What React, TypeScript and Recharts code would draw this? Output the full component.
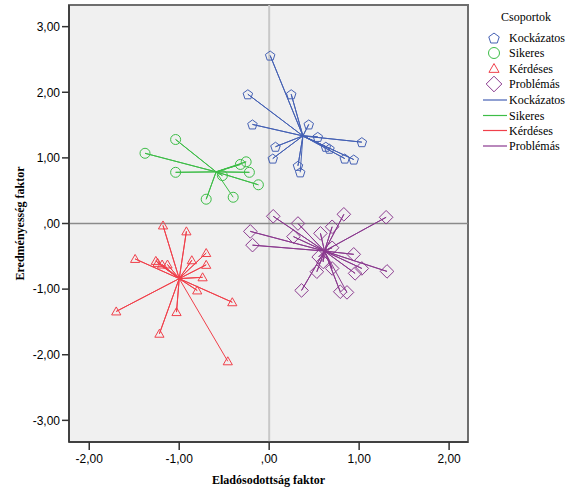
import React from 'react';
import {
  ScatterChart,
  Scatter,
  XAxis,
  YAxis,
  ReferenceLine,
  ReferenceArea,
  Customized,
} from 'recharts';

// ---- data ----
const groupNames = ['Kockázatos', 'Sikeres', 'Kérdéses', 'Problémás'];
const groupColors = ['#4561b4', '#3dbd47', '#f0404b', '#8b3a8f'];
const legendTitle = 'Csoportok';
const xTitle = 'Eladósodottság faktor';
const yTitle = 'Eredményesség faktor';

const kockazatosX = [0.011, -0.237, 0.245, -0.186, 0.44, 0.54, 1.03, 0.07, 0.04, 0.63, 0.67, 0.84, 0.94, 0.32, 0.345];
const kockazatosY = [2.56, 1.97, 1.97, 1.51, 1.51, 1.32, 1.24, 1.17, 0.99, 1.17, 1.14, 0.99, 0.975, 0.88, 0.78];

const sikeresX = [-1.04, -1.38, -1.04, -0.32, -0.256, -0.22, -0.52, -0.12, -0.7, -0.4];
const sikeresY = [1.28, 1.07, 0.78, 0.9, 0.94, 0.78, 0.73, 0.59, 0.37, 0.4];

const kerdesesX = [-1.18, -0.92, -1.49, -1.26, -1.24, -1.19, -1.13, -0.7, -0.86, -0.7, -0.74, -0.8, -0.41, -1.7, -1.03, -1.22, -0.46];
const kerdesesY = [-0.03, -0.12, -0.54, -0.57, -0.6, -0.625, -0.625, -0.45, -0.56, -0.63, -0.82, -1.02, -1.2, -1.34, -1.35, -1.68, -2.1];

const problemasX = [0.045, 0.83, 1.3, -0.21, -0.185, 0.32, 0.7, 0.27, 0.57, 0.7, 0.94, 0.55, 0.6, 0.53, 0.7, 0.955, 1.03, 1.31, 0.36, 0.79, 0.865];
const problemasY = [0.11, 0.14, 0.095, -0.12, -0.33, 0.0, -0.05, -0.2, -0.15, -0.37, -0.47, -0.51, -0.585, -0.735, -0.685, -0.76, -0.685, -0.73, -1.02, -1.04, -1.05];

const centroidX = [0.375, -0.59, -1.0, 0.615];
const centroidY = [1.335, 0.787, -0.84, -0.42];

const xTicks = [-2, -1, 0, 1, 2];
const yTicks = [-3, -2, -1, 0, 1, 2, 3];
const xDomain = [-2.225, 2.21];
const yDomain = [-3.33, 3.33];

// ---- derived ----
const groupXs = [kockazatosX, sikeresX, kerdesesX, problemasX];
const groupYs = [kockazatosY, sikeresY, kerdesesY, problemasY];

const groupPoints = groupXs.map((xs, g) => xs.map((x, i) => ({ x, y: groupYs[g][i] })));
const groupStars = groupPoints.map((pts, g) =>
  pts.flatMap((p) => [{ x: centroidX[g], y: centroidY[g] }, p])
);

const fmt = (v: number) => (v === 0 ? ',00' : v.toFixed(2).replace('.', ','));

// ---- marker shapes ----
function markerPath(kind: number, cx: number, cy: number, s: number): React.ReactNode {
  const color = groupColors[kind];
  const common = { fill: 'none', stroke: color, strokeWidth: 1 };
  if (kind === 0) {
    const r = 5 * s;
    const pts = [0, 1, 2, 3, 4]
      .map((k) => {
        const a = (-90 + k * 72) * (Math.PI / 180);
        return `${cx + r * Math.cos(a)},${cy + r * Math.sin(a) + 0.5 * s}`;
      })
      .join(' ');
    return <polygon points={pts} {...common} />;
  }
  if (kind === 1) {
    return <circle cx={cx} cy={cy} r={5 * s} {...common} />;
  }
  if (kind === 2) {
    const hw = 4.6 * s;
    const pts = `${cx},${cy - 4.5 * s} ${cx + hw},${cy + 3.5 * s} ${cx - hw},${cy + 3.5 * s}`;
    return <polygon points={pts} {...common} />;
  }
  const r = 6.8 * s;
  const pts = `${cx},${cy - r} ${cx + r},${cy} ${cx},${cy + r} ${cx - r},${cy}`;
  return <polygon points={pts} {...common} />;
}

const makeShape = (kind: number) => (props: any) => {
  const { cx, cy } = props;
  if (cx == null || cy == null) return <g />;
  return <g>{markerPath(kind, cx, cy, 1)}</g>;
};

const noShape = () => <g />;

// ---- legend ----
const LegendSvg = () => {
  const lx = 494;
  const tx = 509;
  const rowsMarker = [38, 53, 68.5, 84];
  const rowsLine = [100, 115.5, 130.5, 146];
  const font = { fontFamily: '"Liberation Serif", "Times New Roman", serif', fontSize: 12, fill: '#000' };
  return (
    <g>
      <text x={526} y={21} textAnchor="middle" {...font}>
        {legendTitle}
      </text>
      {groupNames.map((name, g) => (
        <g key={'m' + g}>
          {markerPath(g, lx, rowsMarker[g], g === 3 ? 1.15 : 1.1)}
          <text x={tx} y={rowsMarker[g] + 4} {...font}>
            {name}
          </text>
        </g>
      ))}
      {groupNames.map((name, g) => (
        <g key={'l' + g}>
          <line x1={483} x2={507} y1={rowsLine[g]} y2={rowsLine[g]} stroke={groupColors[g]} strokeWidth={1.2} />
          <text x={tx} y={rowsLine[g] + 4} {...font}>
            {name}
          </text>
        </g>
      ))}
    </g>
  );
};

const XTitle = (props: any) => {
  const vb = props.viewBox || { x: 69, y: 442, width: 399 };
  return (
    <text
      x={vb.x + vb.width / 2}
      y={vb.y + 42}
      textAnchor="middle"
      style={{ fontFamily: '"Liberation Serif", "Times New Roman", serif', fontSize: 12, fontWeight: 'bold' }}
      fill="#000"
    >
      {xTitle}
    </text>
  );
};

const YTitle = (props: any) => {
  const vb = props.viewBox || { x: 0, y: 5, width: 69, height: 437 };
  const cx = 24;
  const cy = vb.y + vb.height / 2;
  return (
    <text
      x={cx}
      y={cy}
      textAnchor="middle"
      transform={`rotate(-90, ${cx}, ${cy})`}
      style={{ fontFamily: '"Liberation Serif", "Times New Roman", serif', fontSize: 12, fontWeight: 'bold' }}
      fill="#000"
    >
      {yTitle}
    </text>
  );
};

const tickStyle = { fontFamily: '"Liberation Sans", Arial, sans-serif', fontSize: 12, fill: '#000' };

export default function App() {
  return (
    <div style={{ position: 'absolute', left: 0, top: 0, background: '#fff' }}>
      <ScatterChart width={578} height={501} margin={{ top: 5, right: 110, bottom: 0, left: 0 }}>
        <XAxis
          type="number"
          dataKey="x"
          domain={xDomain}
          ticks={xTicks}
          tickFormatter={fmt}
          allowDataOverflow
          height={59}
          tickSize={8}
          tickMargin={4}
          tick={tickStyle}
          axisLine={{ stroke: '#333', strokeWidth: 1.5 }}
          tickLine={{ stroke: '#333', strokeWidth: 1.5 }}
          label={XTitle}
        />
        <YAxis
          type="number"
          dataKey="y"
          domain={yDomain}
          ticks={yTicks}
          tickFormatter={fmt}
          allowDataOverflow
          width={69}
          tickSize={7}
          tickMargin={2}
          tick={tickStyle}
          axisLine={{ stroke: '#333', strokeWidth: 1.5 }}
          tickLine={{ stroke: '#333', strokeWidth: 1.5 }}
          label={YTitle}
        />
        <ReferenceArea
          x1={xDomain[0]}
          x2={xDomain[1]}
          y1={yDomain[0]}
          y2={yDomain[1]}
          fill="#f0f0f0"
          fillOpacity={1}
          stroke="#6e6e6e"
          strokeWidth={2}
          ifOverflow="visible"
        />
        <ReferenceLine x={0} stroke="#c8c8c8" strokeWidth={2} />
        <ReferenceLine y={0} stroke="#8a8a8a" strokeWidth={1.5} />
        {groupStars.map((star, g) => (
          <Scatter
            key={'star' + g}
            name={groupNames[g] + ' line'}
            data={star}
            line={{ stroke: groupColors[g], strokeWidth: 1 }}
            lineType="joint"
            shape={noShape}
            isAnimationActive={false}
          />
        ))}
        {groupPoints.map((pts, g) => (
          <Scatter
            key={'pts' + g}
            name={groupNames[g]}
            data={pts}
            shape={makeShape(g)}
            isAnimationActive={false}
          />
        ))}
        <Customized component={LegendSvg} />
      </ScatterChart>
    </div>
  );
}
